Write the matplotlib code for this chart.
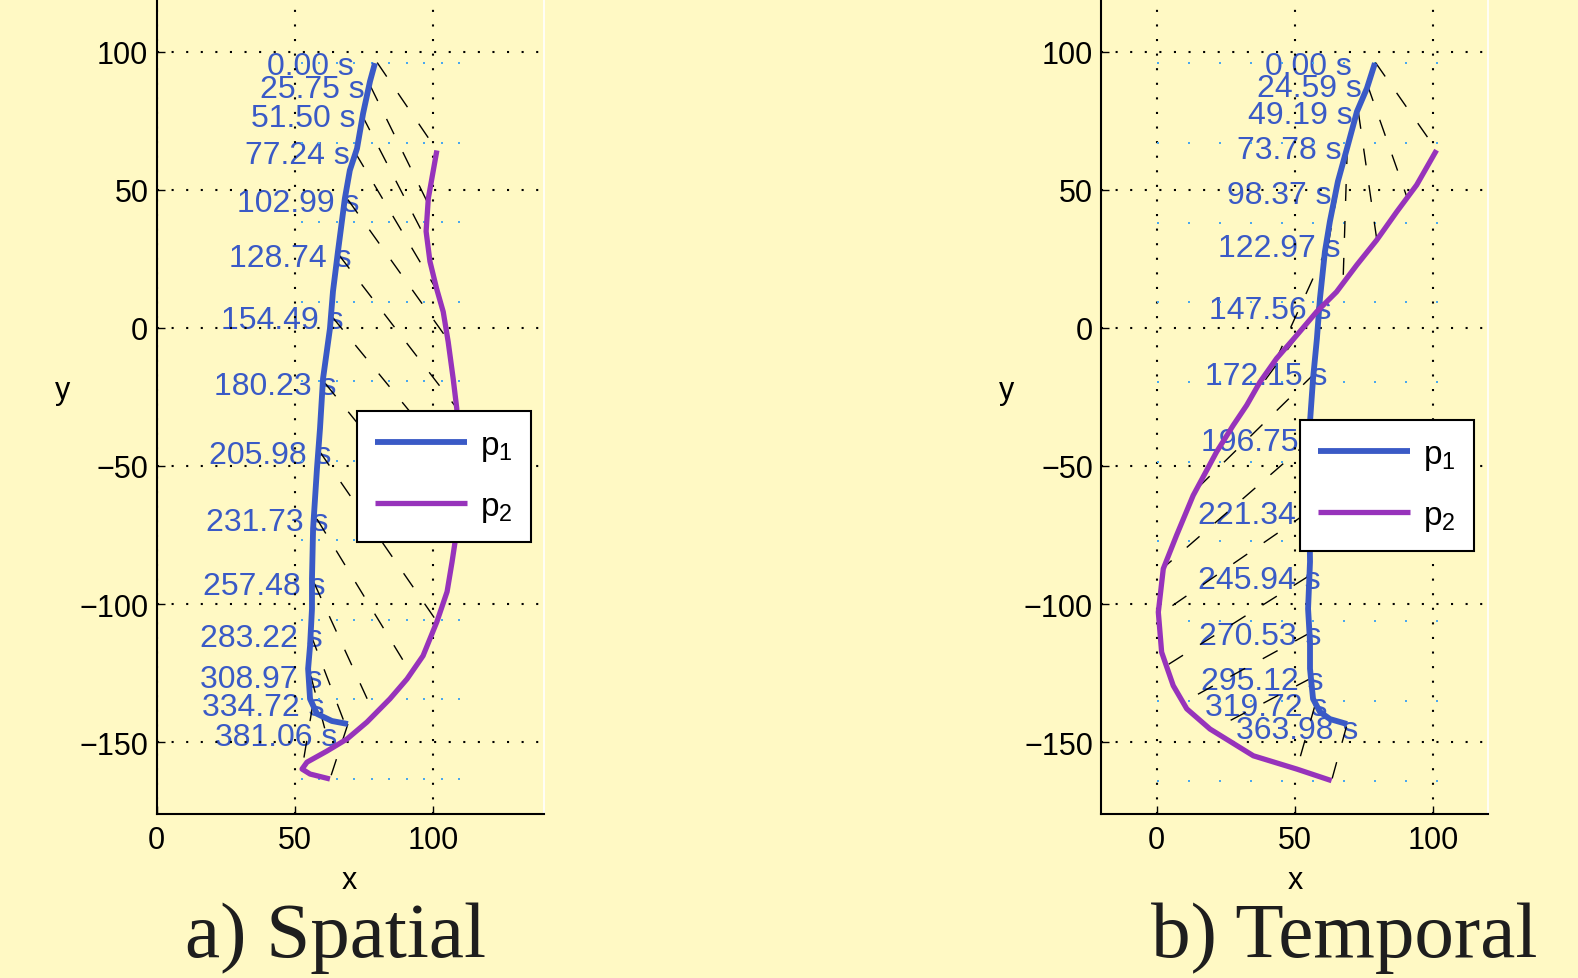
import matplotlib
matplotlib.use("Agg")
import matplotlib.pyplot as plt
import numpy as np

plt.rcParams['font.family'] = ['Liberation Sans', 'DejaVu Sans']
plt.rcParams['mathtext.fontset'] = 'custom'
plt.rcParams['mathtext.rm'] = 'Liberation Sans'

# ---------------- data ----------------
# a) Spatial
sp_p1_x = [79.0, 77.2, 74.7, 72.5, 69.9, 68.1, 65.6, 63.8, 62.7, 60.2, 59.1, 58.0, 56.6, 56.2, 56.2, 55.5, 54.8, 55.5, 58.0, 63.4, 69.2]
sp_p1_y = [95.8, 89.2, 77.6, 64.9, 57.0, 46.8, 27.6, 13.2, -0.3, -18.4, -36.5, -51.0, -72.7, -90.8, -101.7, -115.1, -123.4, -134.3, -139.7, -142.3, -143.4]
sp_p2_x = [101.4, 99.6, 98.3, 97.5, 98.9, 101.3, 103.7, 105.5, 107.3, 108.6, 109.4, 108.0, 106.9, 105.1, 101.4, 96.4, 90.6, 84.4, 76.1, 68.9, 61.6, 54.4, 52.6, 55.5, 62.7]
sp_p2_y = [64.2, 54.1, 46.8, 34.9, 24.0, 14.2, 5.8, -5.1, -18.4, -29.2, -51.0, -77.4, -84.7, -95.5, -106.4, -118.7, -127.1, -134.3, -142.7, -148.8, -153.2, -157.2, -159.7, -161.5, -163.3]
sp_times = [0.00, 25.75, 51.50, 77.24, 102.99, 128.74, 154.49, 180.23, 205.98, 231.73, 257.48, 283.22, 308.97, 334.72, 381.06]
sp_m1_x = [79.8, 77.3, 74.3, 71.8, 69.2, 66.0, 63.4, 60.9, 59.0, 58.0, 56.9, 55.8, 55.8, 56.5, 69.2]
sp_m1_y = [96.0, 87.6, 77.0, 63.5, 46.4, 26.3, 4.1, -20.0, -44.8, -69.2, -92.2, -111.1, -126.1, -136.3, -143.4]
sp_m2_x = [101.4, 97.8, 98.0, 101.4, 105.5, 108.7, 109.4, 107.9, 101.4, 92.0, 78.8, 69.9, 62.8, 52.6, 62.7]
sp_m2_y = [64.2, 45.8, 31.0, 13.6, -4.5, -29.2, -52.0, -78.0, -106.3, -125.0, -140.0, -148.0, -152.5, -159.7, -163.3]

# b) Temporal
tp_p1_x = [79.0, 76.1, 72.5, 68.9, 65.6, 62.7, 60.9, 59.1, 58.0, 56.6, 55.5, 55.1, 55.5, 54.8, 55.5, 55.5, 56.6, 59.1, 62.7, 68.9]
tp_p1_y = [95.8, 86.7, 78.3, 65.0, 53.0, 38.5, 27.6, 10.6, -3.9, -18.4, -34.0, -51.0, -84.7, -101.7, -113.6, -123.4, -134.3, -139.0, -141.6, -143.4]
tp_p2_x = [101.3, 94.1, 86.9, 79.6, 72.4, 65.1, 57.9, 50.7, 43.4, 37.4, 32.6, 27.7, 21.7, 13.2, 7.2, 2.4, 0.6, 1.8, 6.0, 10.9, 19.3, 35.0, 50.7, 63.3]
tp_p2_y = [64.3, 51.7, 42.0, 31.7, 22.7, 13.0, 5.8, -2.7, -11.1, -19.6, -28.0, -35.3, -44.9, -60.7, -75.1, -87.2, -102.9, -117.4, -129.5, -137.9, -145.2, -154.9, -159.7, -163.9]
tp_times = [0.00, 24.59, 49.19, 73.78, 98.37, 122.97, 147.56, 172.15, 196.75, 221.34, 245.94, 270.53, 295.12, 319.72, 363.98]
tp_m1_x = [79.2, 76.3, 73.0, 69.0, 65.4, 62.1, 58.8, 57.4, 55.9, 54.8, 54.8, 55.5, 55.9, 57.4, 68.7]
tp_m1_y = [96.0, 87.9, 78.1, 65.4, 49.3, 30.0, 7.7, -16.3, -40.4, -66.7, -90.0, -110.4, -126.8, -136.3, -144.3]
tp_m2_x = [101.3, 90.5, 79.6, 67.5, 57.9, 43.4, 32.6, 14.5, 2.6, 0.7, 3.5, 9.5, 20.0, 50.7, 63.3]
tp_m2_y = [64.3, 47.5, 32.4, 17.9, 5.8, -11.1, -28.0, -58.3, -86.7, -104.0, -122.3, -135.6, -145.6, -159.7, -163.9]

x_ticks = [0, 50, 100]
y_ticks = [-150, -100, -50, 0, 50, 100]
legend_labels = [r'$\mathregular{p_1}$', r'$\mathregular{p_2}$']
captions = ['a) Spatial', 'b) Temporal']

# ---------------- style ----------------
BG = '#fff9c4'
BLUE = '#3a5ac6'
PURPLE = '#9733bb'
DOT = '#4aa8ee'
W, H = 1578, 979
S = 2.763  # px per data unit

fig = plt.figure(figsize=(W / 100, H / 100), dpi=100, facecolor=BG)


def make_axes(left_px, xlim):
    width_px = (xlim[1] - xlim[0]) * S
    height_px = (120 + 176) * S
    bottom_px = 815.1
    ax = fig.add_axes([left_px / W, (H - bottom_px) / H, width_px / W, height_px / H])
    ax.set_xlim(*xlim)
    ax.set_ylim(-176, 120)
    return ax


def draw(ax, p1x, p1y, p2x, p2y, times, m1x, m1y, m2x, m2y, leg_anchor, nudges):
    ax.set_facecolor(BG)
    # bounding-box sample grid (light blue dots)
    allx = np.concatenate([p1x, p2x])
    ally = np.concatenate([p1y, p2y])
    gx, gy = np.meshgrid(np.linspace(allx.min(), allx.max(), 10),
                         np.linspace(ally.min(), ally.max(), 10))
    ax.plot(gx.ravel(), gy.ravel(), linestyle='none', marker='s', ms=1.5,
            mew=0, color=DOT, zorder=1.8)
    # time labels
    for i, t in enumerate(times):
        dx, dy = nudges.get(i, (0, 0))
        ax.text(m1x[i] - 40 + dx, m1y[i] - 1.1 + dy, f"{t:.2f} s", color=BLUE,
                fontsize=23, ha='left', va='center', zorder=1)
    # correspondence lines
    for i in range(len(times)):
        ax.plot([m1x[i], m2x[i]], [m1y[i], m2y[i]], color='black', lw=1.0,
                dashes=(12.2, 14.4), zorder=2.5)
    ax.plot(p1x, p1y, color=BLUE, lw=4.2, label=legend_labels[0], zorder=3,
            solid_joinstyle='round', solid_capstyle='butt')
    ax.plot(p2x, p2y, color=PURPLE, lw=3.8, label=legend_labels[1], zorder=3,
            solid_joinstyle='round', solid_capstyle='butt')

    ax.set_xticks(x_ticks)
    ax.set_yticks(y_ticks)
    ax.tick_params(direction='in', length=6, width=1, labelsize=22, pad=8, colors='black')
    ax.tick_params(axis='y', pad=6)
    ax.grid(True, color='black', lw=1.5, linestyle=(0, (1, 6.0)))
    for s in ('left', 'bottom'):
        ax.spines[s].set_linewidth(1.5)
    ax.spines['top'].set_visible(False)
    ax.spines['right'].set_color('white')
    ax.spines['right'].set_linewidth(1.2)

    leg = ax.legend(loc='upper left', bbox_to_anchor=leg_anchor, borderaxespad=0,
                    fontsize=24, handlelength=2.76, handletextpad=0.38,
                    borderpad=0.55, labelspacing=0.85, fancybox=False,
                    framealpha=1, facecolor='white', edgecolor='black')
    leg.get_frame().set_linewidth(1.5)
    leg.set_zorder(5)


axL = make_axes(156.7, (0, 140))
axR = make_axes(1101.4, (-20, 120))

draw(axL, sp_p1_x, sp_p1_y, sp_p2_x, sp_p2_y, sp_times, sp_m1_x, sp_m1_y,
     sp_m2_x, sp_m2_y, (0.518, 0.4926), {14: (-8, -3.5)})
draw(axR, tp_p1_x, tp_p1_y, tp_p2_x, tp_p2_y, tp_times, tp_m1_x, tp_m1_y,
     tp_m2_x, tp_m2_y, (0.513, 0.4815), {})

# axis labels
for xc in (349, 1295):
    fig.text(xc / W, 1 - 889.5 / H, 'x', fontsize=22, ha='center', va='baseline')
for xc in (62.4, 1006.4):
    fig.text(xc / W, 1 - 399.5 / H, 'y', fontsize=22, ha='center', va='baseline')

# captions
for xc, cap in zip((336, 1344), captions):
    fig.text(xc / W, 1 - 957 / H, cap, fontsize=57, family='Liberation Serif',
             color='#1e1e1e', ha='center', va='baseline')

fig.savefig('out.png', dpi=100, facecolor=BG)
